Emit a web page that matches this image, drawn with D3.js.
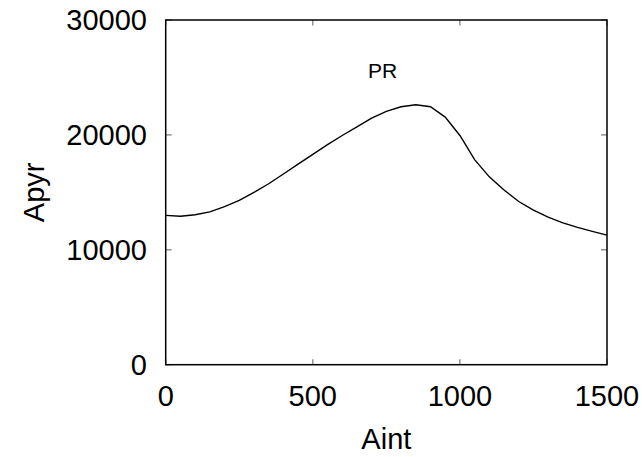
<!DOCTYPE html>
<html><head><meta charset="utf-8">
<script src="https://cdn.jsdelivr.net/npm/d3@7"></script>
<style>body{margin:0;background:#fff}svg{display:block}text{font-family:"Liberation Sans",Arial,sans-serif}</style>
</head><body>
<svg id="c" width="642" height="457"></svg>
<script>
const aint = [0,50,100,150,200,250,300,350,400,450,500,550,600,650,700,750,800,850,900,950,1000,1050,1100,1150,1200,1250,1300,1350,1400,1450,1500];
const apyr = [13000,12920,13050,13300,13750,14300,15000,15750,16600,17450,18300,19150,19950,20700,21450,22050,22450,22620,22450,21550,19950,17850,16350,15200,14200,13450,12850,12350,11950,11600,11280];
const xTicks = [0,500,1000,1500];
const yTicks = [0,10000,20000,30000];
const label = "PR";

const svg = d3.select("#c");
const L=165.7, R=607, T=20, B=364.7;
const x = d3.scaleLinear().domain([0,1500]).range([L,R]);
const y = d3.scaleLinear().domain([0,30000]).range([B,T]);
const fs = 29;

// ticks (inward, gray) on all sides
const tk = svg.append("g").attr("stroke","#777").attr("stroke-width",1.2);
xTicks.forEach(t=>{
  tk.append("line").attr("x1",x(t)).attr("x2",x(t)).attr("y1",B).attr("y2",B-5.5);
  tk.append("line").attr("x1",x(t)).attr("x2",x(t)).attr("y1",T).attr("y2",T+5.5);
});
yTicks.forEach(t=>{
  tk.append("line").attr("x1",L).attr("x2",L+6).attr("y1",y(t)).attr("y2",y(t));
  tk.append("line").attr("x1",R).attr("x2",R-6).attr("y1",y(t)).attr("y2",y(t));
});

// line
svg.append("path").datum(aint.map((a,i)=>[a,apyr[i]]))
  .attr("fill","none").attr("stroke","#000").attr("stroke-width",1.4)
  .attr("d", d3.line().x(d=>x(d[0])).y(d=>y(d[1])));

// frame
svg.append("rect").attr("x",L).attr("y",T).attr("width",R-L).attr("height",B-T)
  .attr("fill","none").attr("stroke","#000").attr("stroke-width",1.5);

// tick labels
svg.append("g").selectAll("text").data(xTicks).join("text")
  .attr("x",d=>x(d)).attr("y",405.5).attr("text-anchor","middle")
  .attr("font-size",fs).text(d=>d);
svg.append("g").selectAll("text").data(yTicks).join("text")
  .attr("x",147).attr("y",d=>y(d)).attr("dy","0.36em").attr("text-anchor","end")
  .attr("font-size",fs).text(d=>d);

// axis titles
svg.append("text").attr("x",(L+R)/2).attr("y",449).attr("text-anchor","middle")
  .attr("font-size",fs).text("Aint");
svg.append("text").attr("transform",`translate(44,${(T+B)/2}) rotate(-90)`)
  .attr("text-anchor","middle").attr("font-size",fs).text("Apyr");

svg.append("text").attr("x",382.5).attr("y",77.5).attr("text-anchor","middle")
  .attr("font-size",21).text(label);
</script>
</body></html>
